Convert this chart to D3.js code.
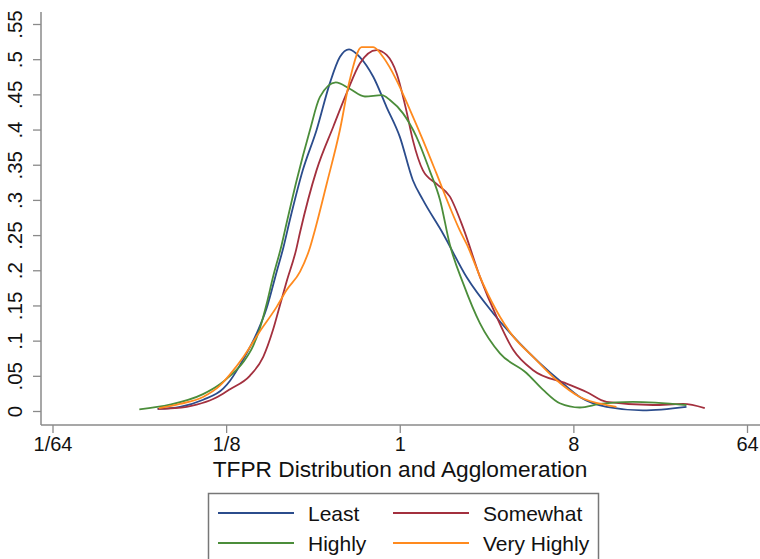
<!DOCTYPE html>
<meta charset="utf-8" />
<style>
  body { margin: 0; background: #fff; }
  text { font-family: "Liberation Sans", Arial, sans-serif; fill: #111; }
  .line { fill: none; stroke-width: 1.8px; }
  .axis path { display: none; }
  .axis line { stroke: #8a8a8a; stroke-width: 1.3px; }
  .axis-line { stroke: #8a8a8a; stroke-width: 1.5px; }
</style>
<body>
  <script src="https://d3js.org/d3.v7.min.js"></script>
  <script>
    // tick values and labels
    var xTicks = [1 / 64, 1 / 8, 1, 8, 64];
    var xTickLabels = ['1/64', '1/8', '1', '8', '64'];
    var yTicks = [0, 0.05, 0.1, 0.15, 0.2, 0.25, 0.3, 0.35, 0.4, 0.45, 0.5, 0.55];

    var seriesNames = ['Least', 'Somewhat', 'Highly', 'Very Highly'];
    var seriesColors = ['#2b4c8c', '#a3303e', '#4b8d3a', '#ff8a1e'];

    // density curves: [TFPR, density]
    var least = [
      [0.055, 0.003], [0.072, 0.006], [0.095, 0.016], [0.121, 0.032], [0.131, 0.043],
      [0.154, 0.074], [0.18, 0.11], [0.203, 0.146], [0.229, 0.198], [0.248, 0.232],
      [0.268, 0.271], [0.313, 0.342], [0.369, 0.399], [0.433, 0.466],
      [0.488, 0.503], [0.545, 0.514], [0.62, 0.503], [0.728, 0.475], [0.854, 0.432],
      [1.0, 0.39], [1.17, 0.328], [1.32, 0.3], [1.68, 0.252], [2.23, 0.19],
      [3.06, 0.139], [4.21, 0.096], [5.35, 0.068], [7.07, 0.039], [8.64, 0.02],
      [11.9, 0.006], [18.4, 0.001], [31.0, 0.006]
    ];
    var somewhat = [
      [0.0551, 0.003], [0.078, 0.006], [0.0878, 0.009], [0.107, 0.017], [0.121, 0.025],
      [0.131, 0.031], [0.166, 0.05], [0.195, 0.077], [0.219, 0.115], [0.238, 0.15],
      [0.258, 0.184], [0.289, 0.229], [0.303, 0.254], [0.369, 0.342], [0.451, 0.404],
      [0.528, 0.451], [0.62, 0.494], [0.758, 0.513], [0.854, 0.506], [0.963, 0.48],
      [1.08, 0.428], [1.17, 0.385], [1.32, 0.342], [1.55, 0.323], [1.82, 0.305],
      [2.14, 0.26], [2.61, 0.191], [3.19, 0.134], [3.89, 0.087], [4.94, 0.058],
      [7.37, 0.039], [9.36, 0.027], [11.9, 0.013], [20.8, 0.0085], [29.8, 0.01],
      [38.6, 0.004]
    ];
    var highly = [
      [0.0442, 0.0024], [0.0638, 0.009], [0.0948, 0.024], [0.116, 0.038], [0.131, 0.05],
      [0.154, 0.07], [0.173, 0.093], [0.187, 0.117], [0.203, 0.152], [0.219, 0.19],
      [0.243, 0.236], [0.253, 0.257], [0.291, 0.328], [0.341, 0.399], [0.384, 0.446],
      [0.465, 0.467], [0.549, 0.458], [0.659, 0.447], [0.806, 0.449], [0.889, 0.442],
      [1.04, 0.423], [1.22, 0.39], [1.43, 0.342], [1.62, 0.3], [1.82, 0.237],
      [2.14, 0.181], [2.61, 0.125], [3.32, 0.082], [4.56, 0.054], [5.57, 0.03],
      [6.8, 0.011], [8.64, 0.005], [11.0, 0.01], [16.3, 0.013], [31.0, 0.0085]
    ];
    var veryHighly = [
      [0.056, 0.004], [0.0718, 0.01], [0.0948, 0.02], [0.116, 0.036], [0.131, 0.052],
      [0.154, 0.077], [0.187, 0.113], [0.229, 0.148], [0.258, 0.172], [0.303, 0.198],
      [0.341, 0.232], [0.362, 0.257], [0.417, 0.323], [0.488, 0.399], [0.549, 0.47],
      [0.633, 0.517], [0.728, 0.517], [0.819, 0.503], [0.963, 0.47], [1.13, 0.428],
      [1.32, 0.385], [1.55, 0.338], [1.82, 0.29], [2.05, 0.257], [2.23, 0.237],
      [2.71, 0.181], [3.32, 0.134], [3.89, 0.106], [4.94, 0.077], [6.53, 0.044],
      [8.64, 0.02], [11.9, 0.0085], [13.4, 0.006]
    ];
    var seriesData = [least, somewhat, highly, veryHighly];

    var width = 760, height = 559;
    var plot = { left: 41, top: 12, right: 760, bottom: 425 };

    var svg = d3.select('body').append('svg')
      .attr('width', width)
      .attr('height', height);

    var x = d3.scaleLog().base(2).domain([1 / 64, 64]).range([52.5, 747]);
    var y = d3.scaleLinear().domain([0, 0.55]).range([411, 24]);

    // axis lines
    svg.append('line').attr('class', 'axis-line')
      .attr('x1', plot.left).attr('x2', plot.left)
      .attr('y1', plot.top).attr('y2', plot.bottom);
    svg.append('line').attr('class', 'axis-line')
      .attr('x1', plot.left).attr('x2', plot.right)
      .attr('y1', plot.bottom).attr('y2', plot.bottom);

    // y axis
    var yAxis = svg.append('g').attr('class', 'axis')
      .attr('transform', 'translate(' + plot.left + ',0)')
      .call(d3.axisLeft(y).tickValues(yTicks).tickSize(8).tickPadding(0)
        .tickFormat(function(d) {
          return d === 0 ? '0' : d3.format('.2~f')(d).replace(/^0/, '');
        }));
    yAxis.selectAll('text')
      .attr('x', null).attr('dy', null)
      .attr('text-anchor', 'middle')
      .attr('transform', 'translate(-19,0) rotate(-90)')
      .style('font-size', '20.5px');

    // x axis
    var xAxis = svg.append('g').attr('class', 'axis')
      .attr('transform', 'translate(0,' + plot.bottom + ')')
      .call(d3.axisBottom(x).tickValues(xTicks).tickSize(8).tickPadding(4)
        .tickFormat(function(d, i) { return xTickLabels[i]; }));
    xAxis.selectAll('text')
      .attr('dy', '0.71em')
      .style('font-size', '20px');

    svg.append('text')
      .attr('x', 400).attr('y', 477)
      .attr('text-anchor', 'middle')
      .style('font-size', '22.7px')
      .text('TFPR Distribution and Agglomeration');

    var line = d3.line()
      .curve(d3.curveMonotoneX)
      .x(function(d) { return x(d[0]); })
      .y(function(d) { return y(d[1]); });

    svg.selectAll('.line')
      .data(seriesData)
      .enter().append('path')
      .attr('class', 'line')
      .attr('stroke', function(d, i) { return seriesColors[i]; })
      .attr('d', line);

    // legend
    var legend = svg.append('g');
    legend.append('rect')
      .attr('x', 208.5).attr('y', 493.5)
      .attr('width', 390).attr('height', 80)
      .attr('fill', '#fff').attr('stroke', '#777').attr('stroke-width', 1.5);

    var item = legend.selectAll('.item')
      .data(seriesNames)
      .enter().append('g')
      .attr('transform', function(d, i) {
        return 'translate(' + (218 + (i % 2) * 175) + ',' + (513 + Math.floor(i / 2) * 30) + ')';
      });
    item.append('line')
      .attr('x1', 0).attr('x2', 76)
      .attr('stroke', function(d, i) { return seriesColors[i]; })
      .attr('stroke-width', 1.8);
    item.append('text')
      .attr('x', 90).attr('y', 8)
      .style('font-size', '21px')
      .text(function(d) { return d; });
  </script>
</body>
